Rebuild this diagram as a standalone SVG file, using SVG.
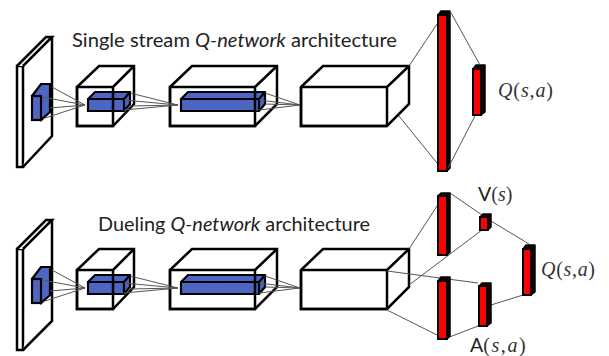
<svg xmlns="http://www.w3.org/2000/svg" width="609" height="356" viewBox="0 0 609 356">
<style>
.box{fill:#fff;stroke:#000;stroke-width:2.5;stroke-linejoin:miter}
.out{fill:none;stroke:#000;stroke-width:2.5}
.blue{fill:#4d66c4;stroke:#000;stroke-width:2.2}
.red{fill:#f00;stroke:#000;stroke-width:2}
.dark{fill:#160000;stroke:#000;stroke-width:1.5;stroke-linejoin:round}
.link{fill:none;stroke:#555;stroke-width:1}
.t{font-family:"Lato","Noto Sans",sans-serif;font-size:19.5px;fill:#222}
.m{font-family:"Liberation Serif",serif;font-size:20px;fill:#333}
.i{font-style:italic}
</style>
<rect width="609" height="356" fill="#fff"/>

<g id="plane-top"><path class="box" d="M17 66H23V167H17Z"/><path class="box" d="M17 66L46 37H52L23 66M23 167L52 136V37"/></g>
<g id="conv1-top"><path class="box" d="M77 87L99 66H134V104L113 126H77Z"/></g>
<g id="conv2-top"><path class="box" d="M170 87L192 66H277V104L255 126H170Z"/></g>
<g id="conv3-top"><path class="box" d="M301 87L323 66H409V104L387 126H301Z"/><path class="out" d="M301 87H387V126M387 87L409 66"/><path class="out" d="M301 87V126H387"/></g>
<g id="fc1-top"><path class="dark" d="M438 15L441 11H450V168L447 171H438Z"/><rect class="red" x="438" y="15" width="9" height="156"/></g>
<g id="fc2-top"><path class="dark" d="M473 69L476 65H485V112L481 115H473Z"/><rect class="red" x="473" y="69" width="8" height="46"/></g>

<g id="blue0-top"><path class="blue" d="M32 96L41 84H50V112L41 120Z"/><rect class="blue" x="32" y="96" width="9" height="24"/></g>
<g id="blue1-top"><path class="blue" d="M88 99L95 92H130V104L124 111H88Z"/><path class="blue" d="M124 99L130 92M88 99H124V111"/></g>
<g id="blue2-top"><path class="blue" d="M181 99L188 92H265V104L259 111H181Z"/><path class="blue" d="M259 99L265 92M181 99H259V111"/></g>
<path class="out" d="M77 87H113V126H77ZM113 87L134 66M170 87H255V126H170ZM255 87L277 66"/>

<g id="plane-bottom"><path class="box" d="M17 249H23V350H17Z"/><path class="box" d="M17 249L46 220H52L23 249M23 350L52 321V220"/></g>
<g id="conv1-bottom"><path class="box" d="M77 270L99 249H134V287L113 309H77Z"/></g>
<g id="conv2-bottom"><path class="box" d="M170 270L192 249H277V287L255 309H170Z"/></g>
<g id="conv3-bottom"><path class="box" d="M301 270L323 249H409V287L387 309H301Z"/><path class="out" d="M301 270H387V309M387 270L409 249"/><path class="out" d="M301 270V309H387"/></g>
<g id="blue0-bottom"><path class="blue" d="M32 279L41 267H50V295L41 303Z"/><rect class="blue" x="32" y="279" width="9" height="24"/></g>
<g id="blue1-bottom"><path class="blue" d="M88 282L95 275H130V287L124 294H88Z"/><path class="blue" d="M124 282L130 275M88 282H124V294"/></g>
<g id="blue2-bottom"><path class="blue" d="M181 282L188 275H265V287L259 294H181Z"/><path class="blue" d="M259 282L265 275M181 282H259V294"/></g>
<path class="out" d="M77 270H113V309H77ZM113 270L134 249M170 270H255V309H170ZM255 270L277 249"/>

<g id="connectors">
<path class="link" d="M52 87L85 105M42 97L85 105M50 108L85 105M45 118L85 105M130 93L178 105M124 100L178 105M124 110L178 105M130 106L178 105M265 93L300 105M259 100L300 105M259 110L300 105M265 104L300 105"/>
<path class="link" d="M409 66L437 24M399 116L437 163M450 11L480 65M475 116L448 168"/>
<path class="link" d="M52 270L85 288M42 280L85 288M50 291L85 288M45 301L85 288M130 276L178 288M124 283L178 288M124 293L178 288M130 289L178 288M265 276L300 288M259 283L300 288M259 293L300 288M265 287L300 288"/>
<path class="link" d="M387 271L478 283M409 249L437 206M387 310L437 335M409 285L482 230M450 193L482 215M447 338L478 326M491 221L529 244M491 305L523 295"/>
</g>

<g id="fc1a-bottom"><path class="dark" d="M438 196L441 193H450V252L447 255H438Z"/><rect class="red" x="438" y="196" width="9" height="59"/></g>
<g id="fc1b-bottom"><path class="dark" d="M438 281L441 277H450V336L447 339H438Z"/><rect class="red" x="438" y="281" width="9" height="58"/></g>
<g id="v-bottom"><path class="dark" d="M480 217L483 214H491V227L488 230H480Z"/><rect class="red" x="480" y="217" width="8" height="13"/></g>
<g id="a-bottom"><path class="dark" d="M479 286L482 283H491V323L487 326H479Z"/><rect class="red" x="479" y="286" width="8" height="40"/></g>
<g id="q-bottom"><path class="dark" d="M523 249L526 245H535V292L531 295H523Z"/><rect class="red" x="523" y="249" width="8" height="46"/></g>

<text class="t" x="72" y="47" textLength="325" lengthAdjust="spacingAndGlyphs">Single stream <tspan class="i">Q-network</tspan> architecture</text>
<text class="t" x="98" y="231" textLength="272" lengthAdjust="spacingAndGlyphs">Dueling <tspan class="i">Q-network</tspan> architecture</text>
<text class="m" x="498" y="97" textLength="55"><tspan class="i">Q</tspan>(<tspan class="i">s</tspan>,<tspan class="i">a</tspan>)</text>
<text class="t" x="478" y="201">V<tspan class="m">(<tspan class="i">s</tspan>)</tspan></text>
<text class="m" x="541" y="276" textLength="54"><tspan class="i">Q</tspan>(<tspan class="i">s</tspan>,<tspan class="i">a</tspan>)</text>
<text class="t" x="470" y="352">A<tspan class="m" letter-spacing="1.6">(<tspan class="i">s</tspan>,<tspan class="i">a</tspan>)</tspan></text>
</svg>
